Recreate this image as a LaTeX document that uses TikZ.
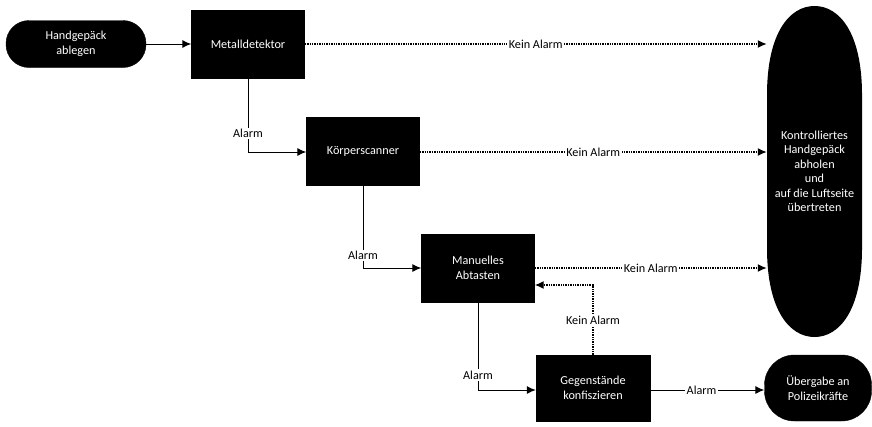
\documentclass[tikz,border=0pt]{standalone}
\usepackage{fontspec}
\setmainfont{Carlito}
\usetikzlibrary{arrows.meta,positioning}
\begin{document}
\begin{tikzpicture}[x=1pt,y=-1pt,
  txt/.style={font=\fontsize{12.2}{14.5}\selectfont},
  box/.style={txt,draw=black,fill=black,text=white,minimum width=113pt,minimum height=68pt,inner sep=1pt,align=center},
  term/.style={txt,draw=black,fill=black,text=white,rounded corners=23pt,align=center,inner sep=1pt},
  flow/.style={line width=1pt,-{Latex[length=9pt,width=8pt]}},
  noflow/.style={line width=1.4pt,densely dotted,-{Latex[length=9pt,width=8pt]}},
  lab/.style={txt,fill=white,inner sep=1.5pt}]
\useasboundingbox (0,0) rectangle (872,426);
\node[term,minimum width=140pt,minimum height=47pt] (start) at (76,44) {Handgepäck\\ablegen};
\node[box] (md) at (248,44) {Metalldetektor};
\node[box] (ks) at (363,151) {Körperscanner};
\node[box] (ma) at (478,268) {Manuelles\\Abtasten};
\node[box,minimum width=114pt,minimum height=66pt] (gk) at (593,388) {Gegenstände\\konfiszieren};
\fill[black] (767,95) .. controls (767,32) and (790,6) .. (814.5,6) .. controls (839,6) and (862,32) .. (862,95) -- (862,248) .. controls (862,311) and (839,337) .. (814.5,337) .. controls (790,337) and (767,311) .. (767,248) -- cycle;
\node[txt,text=white,align=center,inner sep=0pt,minimum width=95pt,minimum height=331pt] (end) at (814.5,171.5) {Kontrolliertes\\Handgepäck\\abholen\\und\\auf die Luftseite\\übertreten};
\node[term,rounded corners=30pt,minimum width=107pt,minimum height=66pt] (pol) at (818,388) {Übergabe an\\Polizeikräfte};
\coordinate (c1) at (248,152);
\coordinate (c2) at (363,268);
\coordinate (c3) at (478,390);
\coordinate (c4) at (593,285);
\draw[flow] (start) -- (md);
\draw[noflow] (md.east) -- (md.east -| end.west) node[lab,pos=0.5] {Kein Alarm};
\draw[noflow] (ks.east |- c1) -- (c1 -| end.west) node[lab,pos=0.5] {Kein Alarm};
\draw[noflow] (ma.east) -- (ma.east -| end.west) node[lab,pos=0.5] {Kein Alarm};
\draw[flow] (md.south) -- (c1) node[lab,pos=0.75] {Alarm} -- (c1 -| ks.west);
\draw[flow] (ks.south) -- (c2) node[lab,pos=0.85] {Alarm} -- (ma.west);
\draw[flow] (ma.south) -- (c3) node[lab,pos=0.83] {Alarm} -- (c3 -| gk.west);
\draw[noflow] (gk.north) -- (c4) node[lab,pos=0.5] {Kein Alarm} -- (c4 -| ma.east);
\draw[flow] (gk.east |- c3) -- (c3 -| pol.west) node[lab,pos=0.45] {Alarm};
\end{tikzpicture}
\end{document}
